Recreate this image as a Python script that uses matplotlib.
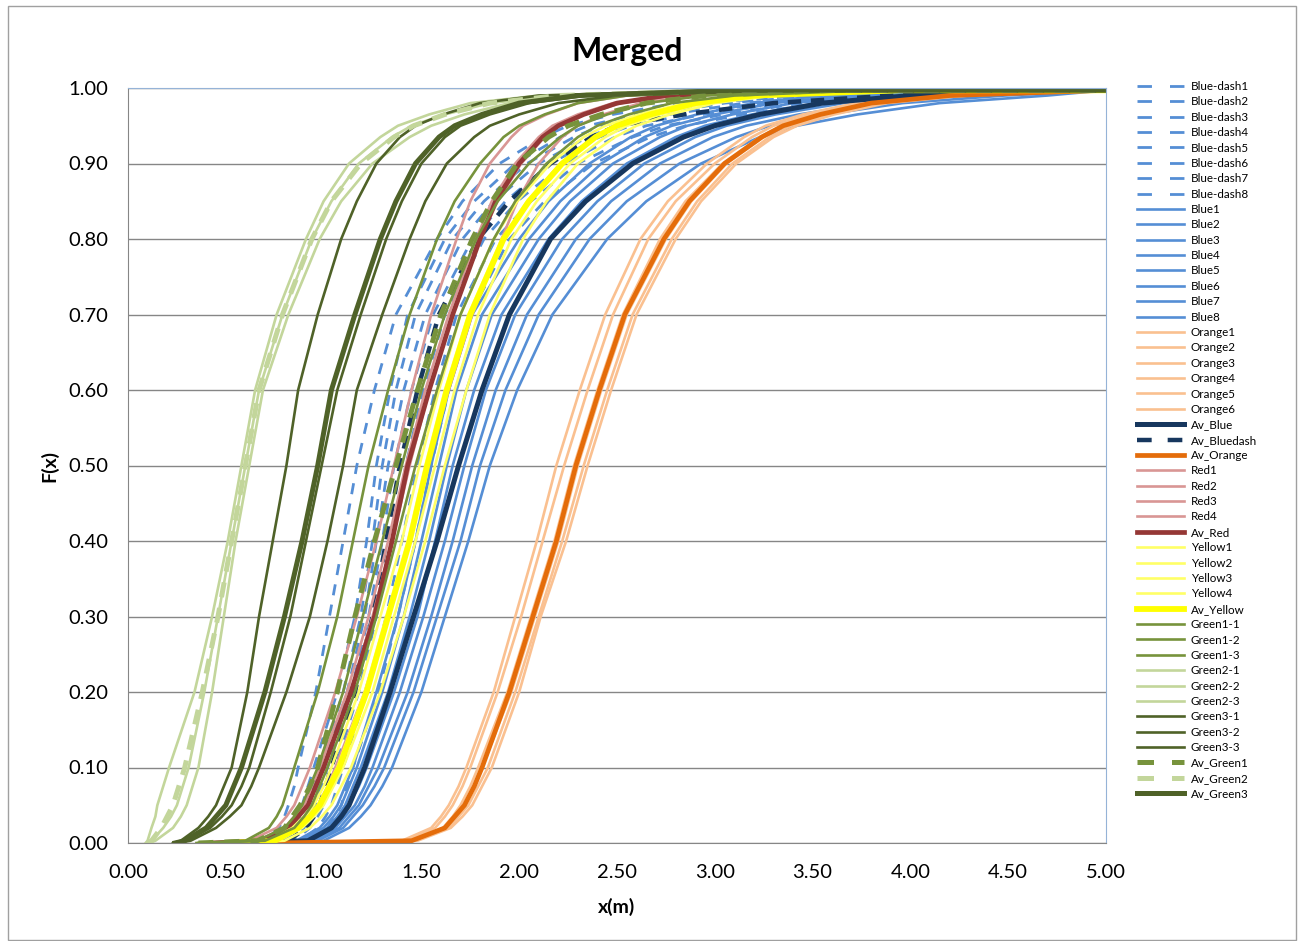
import matplotlib
matplotlib.use('Agg')
import matplotlib.pyplot as plt
from matplotlib.patches import Rectangle

plt.rcParams['font.family'] = ['Lato', 'DejaVu Sans']

# cumulative levels F(x); each curve below lists x(m) read at these levels
f_levels = [0, 0.003, 0.02, 0.035, 0.05, 0.075, 0.1, 0.2, 0.3, 0.4, 0.5, 0.6, 0.7,
            0.8, 0.85, 0.9, 0.935, 0.95, 0.965, 0.98, 0.99, 0.997]
x_end = 5.0

blue_dash = [
    [0.55, 0.70, 0.77, 0.80, 0.82, 0.85, 0.87, 0.96, 1.03, 1.10, 1.17, 1.26, 1.37, 1.58, 1.71, 1.90, 2.12, 2.25, 2.48, 2.80, 3.30, 4.30],
    [0.56, 0.76, 0.84, 0.87, 0.89, 0.92, 0.95, 1.07, 1.16, 1.22, 1.27, 1.34, 1.43, 1.62, 1.77, 1.98, 2.21, 2.35, 2.60, 2.95, 3.45, 4.40],
    [0.57, 0.78, 0.86, 0.89, 0.92, 0.95, 0.98, 1.10, 1.19, 1.25, 1.30, 1.37, 1.47, 1.66, 1.82, 2.04, 2.28, 2.42, 2.69, 3.05, 3.55, 4.50],
    [0.58, 0.80, 0.88, 0.91, 0.94, 0.97, 1.00, 1.12, 1.21, 1.27, 1.33, 1.41, 1.52, 1.71, 1.87, 2.10, 2.35, 2.50, 2.77, 3.15, 3.65, 4.60],
    [0.59, 0.82, 0.90, 0.93, 0.96, 0.99, 1.02, 1.14, 1.23, 1.30, 1.36, 1.45, 1.56, 1.76, 1.93, 2.16, 2.41, 2.57, 2.86, 3.25, 3.75, 4.70],
    [0.60, 0.85, 0.93, 0.97, 1.00, 1.03, 1.06, 1.18, 1.27, 1.35, 1.42, 1.51, 1.62, 1.82, 1.99, 2.23, 2.49, 2.65, 2.94, 3.35, 3.85, 4.80],
    [0.61, 0.88, 0.97, 1.01, 1.04, 1.07, 1.10, 1.22, 1.32, 1.40, 1.48, 1.57, 1.68, 1.88, 2.06, 2.30, 2.58, 2.75, 3.04, 3.45, 3.95, 4.90],
    [0.62, 0.92, 1.02, 1.06, 1.09, 1.12, 1.15, 1.28, 1.38, 1.47, 1.55, 1.64, 1.75, 1.95, 2.13, 2.38, 2.67, 2.85, 3.14, 3.55, 4.05, 5.00],
]
blue = [
    [0.62, 0.86, 0.98, 1.03, 1.07, 1.11, 1.15, 1.27, 1.38, 1.47, 1.55, 1.64, 1.76, 2.00, 2.15, 2.36, 2.57, 2.70, 2.91, 3.20, 3.55, 4.30],
    [0.63, 0.88, 1.00, 1.05, 1.09, 1.13, 1.17, 1.30, 1.41, 1.50, 1.59, 1.68, 1.81, 2.05, 2.21, 2.42, 2.64, 2.78, 3.00, 3.30, 3.68, 4.45],
    [0.64, 0.90, 1.02, 1.07, 1.11, 1.15, 1.19, 1.33, 1.44, 1.54, 1.63, 1.73, 1.86, 2.10, 2.26, 2.48, 2.72, 2.86, 3.09, 3.40, 3.80, 4.60],
    [0.65, 0.91, 1.04, 1.09, 1.13, 1.18, 1.22, 1.36, 1.48, 1.57, 1.66, 1.77, 1.91, 2.15, 2.32, 2.55, 2.80, 2.95, 3.19, 3.52, 3.95, 4.75],
    [0.66, 0.93, 1.06, 1.11, 1.16, 1.21, 1.25, 1.39, 1.51, 1.62, 1.72, 1.83, 1.98, 2.22, 2.40, 2.64, 2.90, 3.06, 3.31, 3.66, 4.10, 4.90],
    [0.67, 0.95, 1.08, 1.13, 1.18, 1.23, 1.28, 1.43, 1.55, 1.66, 1.76, 1.88, 2.04, 2.29, 2.47, 2.72, 2.99, 3.16, 3.43, 3.80, 4.28, 5.00],
    [0.68, 0.97, 1.10, 1.15, 1.20, 1.26, 1.31, 1.46, 1.58, 1.70, 1.80, 1.93, 2.10, 2.36, 2.55, 2.82, 3.11, 3.28, 3.57, 3.96, 4.48, 5.00],
    [0.70, 1.00, 1.13, 1.19, 1.24, 1.30, 1.35, 1.50, 1.62, 1.74, 1.85, 1.99, 2.17, 2.45, 2.65, 2.93, 3.23, 3.42, 3.73, 4.15, 4.70, 5.00],
]
orange = [
    [0.75, 1.40, 1.55, 1.60, 1.64, 1.69, 1.73, 1.87, 1.98, 2.09, 2.19, 2.31, 2.44, 2.62, 2.76, 2.96, 3.15, 3.26, 3.45, 3.72, 4.10, 4.90],
    [0.75, 1.42, 1.57, 1.62, 1.66, 1.71, 1.75, 1.89, 2.01, 2.12, 2.23, 2.35, 2.48, 2.66, 2.80, 3.00, 3.19, 3.30, 3.49, 3.76, 4.15, 4.95],
    [0.75, 1.45, 1.61, 1.66, 1.70, 1.75, 1.79, 1.94, 2.06, 2.18, 2.28, 2.40, 2.53, 2.72, 2.85, 3.04, 3.23, 3.34, 3.53, 3.80, 4.20, 5.00],
    [0.75, 1.46, 1.62, 1.67, 1.72, 1.77, 1.81, 1.96, 2.08, 2.20, 2.30, 2.42, 2.55, 2.75, 2.88, 3.06, 3.25, 3.36, 3.55, 3.82, 4.22, 5.00],
    [0.75, 1.47, 1.64, 1.69, 1.74, 1.79, 1.84, 1.98, 2.10, 2.22, 2.33, 2.45, 2.58, 2.78, 2.91, 3.09, 3.28, 3.39, 3.58, 3.85, 4.25, 5.00],
    [0.75, 1.48, 1.65, 1.71, 1.76, 1.81, 1.86, 2.00, 2.11, 2.24, 2.35, 2.47, 2.60, 2.80, 2.93, 3.11, 3.30, 3.42, 3.61, 3.88, 4.28, 5.00],
]
av_blue = [0.65, 0.92, 1.04, 1.09, 1.13, 1.17, 1.21, 1.34, 1.46, 1.58, 1.69, 1.81, 1.95, 2.16, 2.34, 2.58, 2.84, 3.00, 3.23, 3.55, 4.00, 4.80]
av_bluedash = [0.58, 0.82, 0.91, 0.95, 0.98, 1.01, 1.04, 1.16, 1.25, 1.32, 1.39, 1.48, 1.59, 1.79, 1.95, 2.16, 2.37, 2.50, 2.84, 3.30, 3.90, 4.80]
av_orange = [0.75, 1.45, 1.62, 1.67, 1.72, 1.77, 1.81, 1.95, 2.07, 2.19, 2.29, 2.41, 2.54, 2.74, 2.87, 3.05, 3.24, 3.35, 3.54, 3.80, 4.20, 5.00]
red = [
    [0.40, 0.62, 0.76, 0.81, 0.85, 0.89, 0.93, 1.06, 1.17, 1.27, 1.36, 1.45, 1.55, 1.68, 1.75, 1.85, 1.96, 2.02, 2.14, 2.30, 2.55, 3.20],
    [0.42, 0.66, 0.80, 0.85, 0.90, 0.94, 0.98, 1.12, 1.23, 1.33, 1.42, 1.52, 1.64, 1.78, 1.86, 1.98, 2.10, 2.17, 2.30, 2.48, 2.75, 3.40],
    [0.43, 0.68, 0.82, 0.87, 0.92, 0.96, 1.00, 1.14, 1.25, 1.35, 1.44, 1.54, 1.66, 1.80, 1.89, 2.01, 2.13, 2.20, 2.33, 2.52, 2.80, 3.45],
    [0.45, 0.72, 0.86, 0.92, 0.97, 1.02, 1.06, 1.21, 1.33, 1.44, 1.53, 1.64, 1.76, 1.91, 1.99, 2.10, 2.22, 2.30, 2.43, 2.62, 2.90, 3.55],
]
av_red = [0.43, 0.68, 0.82, 0.87, 0.92, 0.96, 1.00, 1.14, 1.26, 1.35, 1.43, 1.54, 1.66, 1.80, 1.88, 2.00, 2.12, 2.20, 2.33, 2.50, 2.75, 3.40]
yellow = [
    [0.50, 0.72, 0.84, 0.90, 0.95, 1.00, 1.04, 1.18, 1.29, 1.40, 1.49, 1.59, 1.70, 1.87, 1.99, 2.16, 2.33, 2.44, 2.61, 2.85, 3.15, 3.90],
    [0.50, 0.74, 0.86, 0.92, 0.97, 1.02, 1.07, 1.21, 1.32, 1.43, 1.52, 1.62, 1.74, 1.91, 2.04, 2.21, 2.39, 2.50, 2.67, 2.90, 3.20, 3.95],
    [0.52, 0.77, 0.89, 0.95, 1.00, 1.05, 1.10, 1.25, 1.36, 1.47, 1.57, 1.67, 1.79, 1.96, 2.09, 2.26, 2.44, 2.55, 2.72, 2.95, 3.25, 4.00],
    [0.55, 0.80, 0.93, 0.99, 1.04, 1.09, 1.14, 1.29, 1.41, 1.52, 1.62, 1.73, 1.85, 2.02, 2.14, 2.30, 2.49, 2.60, 2.77, 3.00, 3.30, 4.05],
]
av_yellow = [0.51, 0.75, 0.87, 0.93, 0.98, 1.03, 1.08, 1.22, 1.33, 1.44, 1.53, 1.63, 1.75, 1.92, 2.05, 2.22, 2.39, 2.50, 2.67, 2.90, 3.20, 3.95]
green1 = [
    [0.35, 0.60, 0.72, 0.76, 0.79, 0.82, 0.85, 0.97, 1.07, 1.15, 1.23, 1.33, 1.44, 1.58, 1.67, 1.80, 1.92, 2.00, 2.13, 2.30, 2.55, 3.20],
    [0.36, 0.66, 0.80, 0.85, 0.89, 0.93, 0.97, 1.10, 1.20, 1.30, 1.40, 1.50, 1.62, 1.78, 1.89, 2.05, 2.21, 2.30, 2.45, 2.65, 2.95, 3.60],
    [0.38, 0.70, 0.85, 0.90, 0.94, 0.98, 1.02, 1.16, 1.27, 1.37, 1.47, 1.58, 1.70, 1.87, 1.98, 2.14, 2.30, 2.40, 2.56, 2.78, 3.10, 3.80],
]
green2 = [
    [0.09, 0.10, 0.12, 0.14, 0.15, 0.18, 0.21, 0.34, 0.43, 0.51, 0.58, 0.65, 0.76, 0.91, 1.00, 1.13, 1.29, 1.38, 1.54, 1.75, 2.10, 3.00],
    [0.10, 0.12, 0.18, 0.22, 0.25, 0.28, 0.31, 0.39, 0.46, 0.53, 0.60, 0.67, 0.79, 0.94, 1.04, 1.18, 1.35, 1.45, 1.62, 1.85, 2.20, 3.10],
    [0.11, 0.14, 0.23, 0.27, 0.30, 0.33, 0.36, 0.43, 0.49, 0.55, 0.62, 0.69, 0.82, 0.98, 1.09, 1.25, 1.44, 1.55, 1.72, 1.95, 2.30, 3.20],
]
green3 = [
    [0.23, 0.27, 0.36, 0.41, 0.45, 0.49, 0.53, 0.61, 0.67, 0.74, 0.81, 0.87, 0.97, 1.09, 1.17, 1.27, 1.39, 1.47, 1.61, 1.80, 2.10, 3.00],
    [0.24, 0.30, 0.42, 0.48, 0.53, 0.58, 0.62, 0.73, 0.83, 0.91, 0.99, 1.07, 1.19, 1.32, 1.40, 1.50, 1.62, 1.70, 1.85, 2.05, 2.35, 3.20],
    [0.25, 0.32, 0.45, 0.52, 0.58, 0.63, 0.67, 0.81, 0.93, 1.02, 1.10, 1.17, 1.30, 1.44, 1.52, 1.63, 1.77, 1.85, 2.00, 2.20, 2.50, 3.35],
]
av_green1 = [0.36, 0.66, 0.80, 0.84, 0.88, 0.93, 0.97, 1.07, 1.16, 1.26, 1.37, 1.48, 1.60, 1.76, 1.86, 1.99, 2.15, 2.25, 2.42, 2.65, 2.95, 3.60]
av_green2 = [0.10, 0.12, 0.17, 0.20, 0.23, 0.26, 0.29, 0.38, 0.46, 0.53, 0.60, 0.67, 0.79, 0.94, 1.04, 1.19, 1.36, 1.46, 1.62, 1.85, 2.20, 3.10]
av_green3 = [0.24, 0.29, 0.40, 0.45, 0.50, 0.54, 0.58, 0.70, 0.80, 0.89, 0.97, 1.04, 1.16, 1.29, 1.37, 1.47, 1.59, 1.67, 1.81, 2.00, 2.30, 3.10]

thin = 1.9
dash_thin = (4.0, 3.4)
dash_thick = (3.0, 2.2)

series = []
for i, xs in enumerate(blue_dash):
    series.append(('Blue-dash%d' % (i + 1), xs, '#558ED5', 2.0, dash_thin))
for i, xs in enumerate(blue):
    series.append(('Blue%d' % (i + 1), xs, '#558ED5', thin, None))
for i, xs in enumerate(orange):
    series.append(('Orange%d' % (i + 1), xs, '#FAC090', thin, None))
series.append(('Av_Blue', av_blue, '#17375E', 3.6, None))
series.append(('Av_Bluedash', av_bluedash, '#17375E', 3.2, dash_thick))
series.append(('Av_Orange', av_orange, '#E46C0A', 3.4, None))
for i, xs in enumerate(red):
    series.append(('Red%d' % (i + 1), xs, '#D99694', thin, None))
series.append(('Av_Red', av_red, '#953735', 3.4, None))
for i, xs in enumerate(yellow):
    series.append(('Yellow%d' % (i + 1), xs, '#FFFF66', thin, None))
series.append(('Av_Yellow', av_yellow, '#FFFF00', 4.2, None))
for i, xs in enumerate(green1):
    series.append(('Green1-%d' % (i + 1), xs, '#77933C', thin, None))
for i, xs in enumerate(green2):
    series.append(('Green2-%d' % (i + 1), xs, '#C3D69B', thin, None))
for i, xs in enumerate(green3):
    series.append(('Green3-%d' % (i + 1), xs, '#4F6228', thin, None))
series.append(('Av_Green1', av_green1, '#77933C', 3.6, dash_thick))
series.append(('Av_Green2', av_green2, '#C3D69B', 3.6, dash_thick))
series.append(('Av_Green3', av_green3, '#4F6228', 3.6, None))

fig = plt.figure(figsize=(12.99, 9.41), dpi=100)
ax = fig.add_axes([128 / 1299, 98 / 941, 978 / 1299, 755 / 941])

for label, xs, color, lw, dashes in series:
    x = list(xs)
    f = list(f_levels)
    if x[-1] < x_end:
        x.append(x_end)
        f.append(f[-1])
    line, = ax.plot(x, f, color=color, lw=lw, label=label,
                    solid_joinstyle='round', dash_capstyle='butt')
    if dashes:
        line.set_dashes(dashes)

ax.set_xlim(0, 5)
ax.set_ylim(0, 1)
ax.set_xticks([i * 0.5 for i in range(11)])
ax.set_yticks([i * 0.1 for i in range(11)])
ax.set_xticklabels(['%.2f' % (i * 0.5) for i in range(11)], fontsize=14.5)
ax.set_yticklabels(['%.2f' % (i * 0.1) for i in range(11)], fontsize=14.5)
ax.tick_params(axis='x', length=0, pad=15)
ax.tick_params(axis='y', length=0, pad=14)
ax.grid(axis='y', color='#868686', lw=1)
ax.set_axisbelow(True)
for s in ['left', 'bottom']:
    ax.spines[s].set_color('#868686')
for s in ['top', 'right']:
    ax.spines[s].set_color('#95B3D7')
ax.set_xlabel('x(m)', fontsize=14, fontweight='bold', labelpad=12)
ax.set_ylabel('F(x)', fontsize=14, fontweight='bold', labelpad=7)

fig.text(627 / 1299, 1 - 52 / 941, 'Merged', ha='center', va='center',
         fontsize=23, fontweight='bold')

leg = ax.legend(loc='upper left', bbox_to_anchor=(1137 / 1299, 1 - 81 / 941),
                bbox_transform=fig.transFigure, frameon=False, fontsize=8.4,
                handlelength=4.0, handletextpad=0.6, labelspacing=0.375,
                borderpad=0, borderaxespad=0)
# legend keys show two long dashes, like the spreadsheet legend
for hl, txt in zip(leg.get_lines(), leg.get_texts()):
    name = txt.get_text()
    if name.startswith('Blue-dash'):
        hl.set_dashes((5.2, 6.5))
    elif name in ('Av_Bluedash', 'Av_Green1', 'Av_Green2'):
        hl.set_dashes((3.3, 3.6))

fig.patches.append(Rectangle((8 / 1299, 1 / 941), 1288 / 1299, 934 / 941,
                             transform=fig.transFigure, fill=False,
                             edgecolor='#A0A0A0', lw=1))

fig.savefig('out.png', dpi=100)
